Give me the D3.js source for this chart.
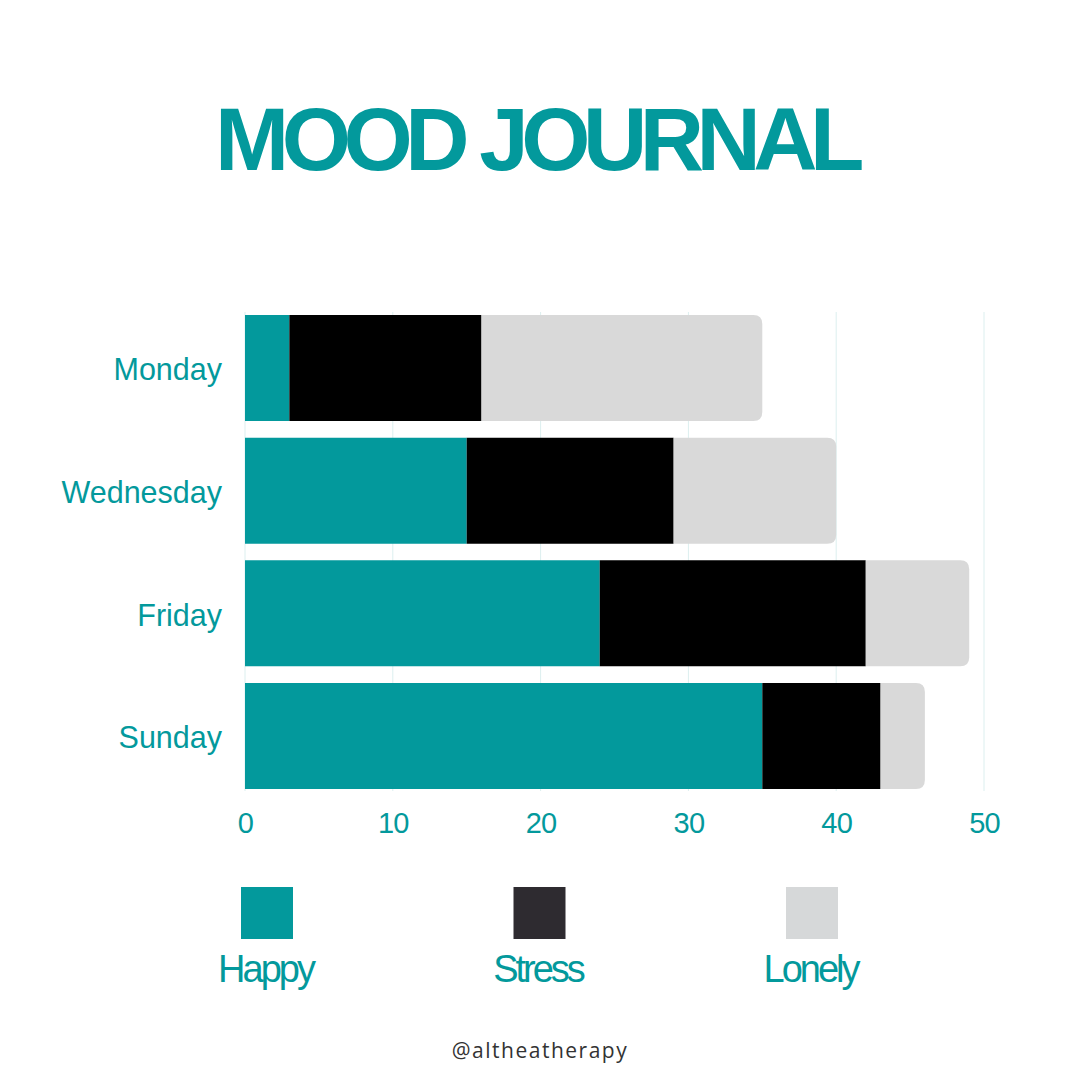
<!DOCTYPE html>
<html>
<head>
<meta charset="utf-8">
<script src="https://cdn.jsdelivr.net/npm/d3@7"></script>
<style>
  html, body { margin: 0; padding: 0; background: #fff; }
  svg { display: block; }
</style>
</head>
<body>
<svg id="chart" width="1080" height="1080"></svg>
<script>
const days = ["Monday", "Wednesday", "Friday", "Sunday"];
const moods = ["Happy", "Stress", "Lonely"];
const happy = [3, 15, 24, 35];
const stress = [13, 14, 18, 8];
const lonely = [19, 11, 7, 3];
const xTicks = [0, 10, 20, 30, 40, 50];

const teal = "#03999c";
const barColors = { Happy: teal, Stress: "#000000", Lonely: "#d9d9d9" };
const legendColors = { Happy: "#03999c", Stress: "#2e2b30", Lonely: "#d6d8d9" };

const svg = d3.select("#chart");
const margin = { top: 315, left: 245, right: 96, bottom: 291 };
const width = 1080 - margin.left - margin.right;
const height = 1080 - margin.top - margin.bottom;

// title
svg.append("text")
    .attr("x", 540 - 4)
    .attr("y", 170)
    .attr("text-anchor", "middle")
    .attr("font-family", "Liberation Sans, Arial, sans-serif")
    .attr("font-weight", "bold")
    .attr("font-size", 89)
    .attr("letter-spacing", "-7.5px")
    .attr("fill", teal)
    .text("MOOD JOURNAL");

const rows = days.map((d, i) => ({ day: d, Happy: happy[i], Stress: stress[i], Lonely: lonely[i] }));
const series = d3.stack().keys(moods)(rows);

const x = d3.scaleLinear().domain([0, 50]).range([0, width]);
const y = d3.scaleBand().domain(days).range([0, height]).paddingInner(0.135).paddingOuter(0);

const g = svg.append("g").attr("transform", `translate(${margin.left},${margin.top})`);

// gridlines
g.append("g")
    .selectAll("line")
    .data(xTicks)
    .join("line")
    .attr("x1", d => x(d))
    .attr("x2", d => x(d))
    .attr("y1", -3)
    .attr("y2", height + 2)
    .attr("stroke", "#dcefef")
    .attr("stroke-width", 1);

// bars, last segment gets rounded right corners
function roundRight(x0, y0, w, h, r) {
    r = Math.min(r, w);
    return `M${x0},${y0}H${x0 + w - r}Q${x0 + w},${y0} ${x0 + w},${y0 + r}` +
        `V${y0 + h - r}Q${x0 + w},${y0 + h} ${x0 + w - r},${y0 + h}H${x0}Z`;
}

series.forEach(s => {
    const last = s.key === "Lonely";
    g.append("g")
        .attr("fill", barColors[s.key])
        .selectAll("path")
        .data(s)
        .join("path")
        .attr("d", d => {
            const x0 = x(d[0]), w = x(d[1]) - x(d[0]);
            const y0 = y(d.data.day), h = y.bandwidth();
            return last ? roundRight(x0, y0, w, h, 9) : `M${x0},${y0}h${w}v${h}h${-w}Z`;
        });
});

// y axis labels
const yAxis = g.append("g")
    .call(d3.axisLeft(y).tickSize(0).tickPadding(23));
yAxis.select(".domain").remove();
yAxis.selectAll("text")
    .attr("font-family", "Liberation Sans, Arial, sans-serif")
    .attr("font-size", 30.5)
    .attr("dy", "0.4em")
    .attr("fill", teal);

// x axis labels
const xAxis = g.append("g")
    .attr("transform", `translate(0,${height})`)
    .call(d3.axisBottom(x).tickValues(xTicks).tickSize(0).tickPadding(23));
xAxis.select(".domain").remove();
xAxis.selectAll("text")
    .attr("font-family", "Liberation Sans, Arial, sans-serif")
    .attr("font-size", 29)
    .attr("letter-spacing", "-0.8px")
    .attr("fill", teal);

// legend
const legendX = d3.scalePoint().domain(moods).range([267, 812]);
const legend = svg.append("g")
    .selectAll("g")
    .data(moods)
    .join("g")
    .attr("transform", d => `translate(${legendX(d)},0)`);

legend.append("rect")
    .attr("x", -26)
    .attr("y", 887)
    .attr("width", 52)
    .attr("height", 52)
    .attr("fill", d => legendColors[d]);

legend.append("text")
    .attr("x", -1.5)
    .attr("y", 982)
    .attr("text-anchor", "middle")
    .attr("font-family", "Liberation Sans, Arial, sans-serif")
    .attr("font-size", 38)
    .attr("letter-spacing", "-3px")
    .attr("fill", teal)
    .text(d => d);

// footer
svg.append("text")
    .attr("x", 540)
    .attr("y", 1058)
    .attr("text-anchor", "middle")
    .attr("font-family", "Open Sans, sans-serif")
    .attr("font-size", 21)
    .attr("letter-spacing", "1.5px")
    .attr("fill", "#333333")
    .text("@altheatherapy");
</script>
</body>
</html>
